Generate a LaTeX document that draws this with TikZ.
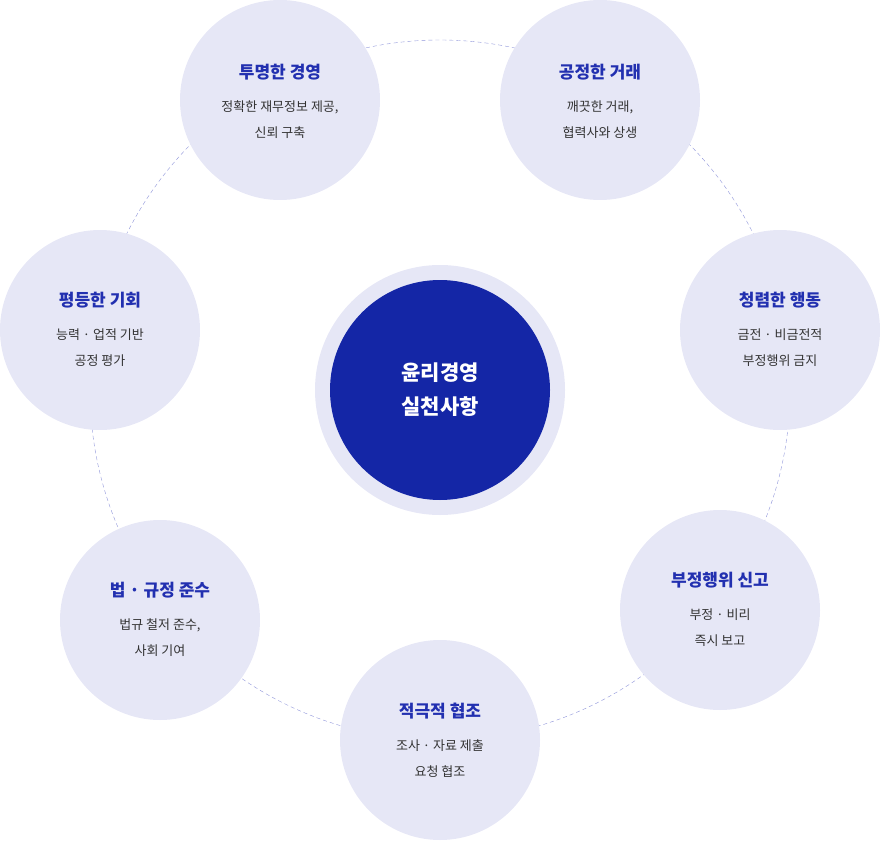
\documentclass[tikz,border=0pt]{standalone}
\usepackage{fontspec}
\setmainfont{Noto Sans CJK KR}
\usetikzlibrary{positioning}
\definecolor{ringblue}{HTML}{8F95DA}
\definecolor{bubble}{HTML}{E6E7F6}
\definecolor{navy}{HTML}{1426A6}
\definecolor{titleblue}{HTML}{2230B0}
\definecolor{desc}{HTML}{333333}
\tikzset{
	bubble/.style={circle, fill=bubble, minimum size=200pt, inner sep=0pt},
	btitle/.style={font=\fontsize{17}{20}\selectfont\bfseries, text=titleblue},
	bdesc/.style={font=\fontsize{13}{26}\selectfont, text=desc, align=center}
}
\begin{document}
\begin{tikzpicture}[x=1pt, y=-1pt]
	\useasboundingbox (0,0) rectangle (880,840);
	% dashed ring behind the bubbles
	\draw[ringblue, dashed, dash pattern=on 4pt off 3pt] (440,390) circle (350);
	\node[circle, fill=bubble, minimum size=250pt] (halo) at (440,390) {};
	\node[circle, fill=navy, minimum size=220pt, text=white, align=center,
		font=\fontsize{21}{34}\selectfont\bfseries] (core) at (440,390) {윤리경영\\실천사항};
	% bubbles
	\node[bubble] (open) at (280,100) {};
	\node[btitle] (openT) at (280,72) {투명한 경영};
	\node[bdesc, below = 14pt of openT] (openD) {정확한 재무정보 제공,\\신뢰 구축};
	\node[bubble] (fair) at (600,100) {};
	\node[btitle] (fairT) at (600,72) {공정한 거래};
	\node[bdesc, below = 14pt of fairT] (fairD) {깨끗한 거래,\\협력사와 상생};
	\node[bubble] (clean) at (780,330) {};
	\node[btitle] (cleanT) at (780,300) {청렴한 행동};
	\node[bdesc, below = 14pt of cleanT] (cleanD) {금전 · 비금전적\\부정행위 금지};
	\node[bubble] (report) at (720,610) {};
	\node[btitle] (reportT) at (720,580) {부정행위 신고};
	\node[bdesc, below = 14pt of reportT] (reportD) {부정 · 비리\\즉시 보고};
	\node[bubble] (coop) at (440,740) {};
	\node[btitle] (coopT) at (440,711) {적극적 협조};
	\node[bdesc, below = 14pt of coopT] (coopD) {조사 · 자료 제출\\요청 협조};
	\node[bubble] (rule) at (160,620) {};
	\node[btitle] (ruleT) at (160,590) {법 · 규정 준수};
	\node[bdesc, below = 14pt of ruleT] (ruleD) {법규 철저 준수,\\사회 기여};
	\node[bubble] (equal) at (100,330) {};
	\node[btitle] (equalT) at (100,300) {평등한 기회};
	\node[bdesc, below = 14pt of equalT] (equalD) {능력 · 업적 기반\\공정 평가};
\end{tikzpicture}
\end{document}
